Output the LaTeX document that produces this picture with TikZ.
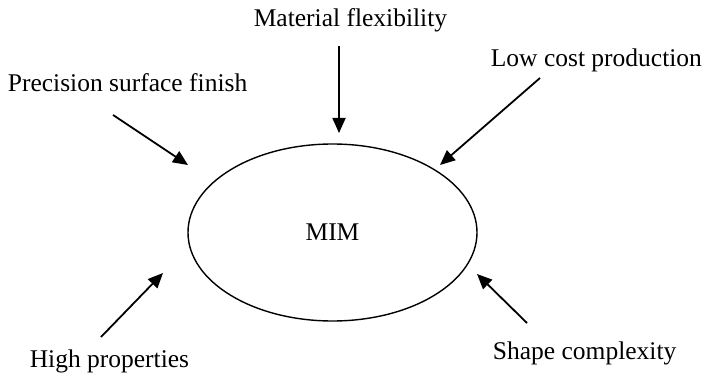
\documentclass[tikz,border=0pt]{standalone}
\usepackage{fontspec}
\setmainfont{Liberation Serif}
\usetikzlibrary{arrows.meta,shapes.geometric}

\begin{document}
\begin{tikzpicture}[->,>={Triangle[length=15pt,width=13pt]},line width=1.8pt,x=1pt,y=-1pt,
    every node/.style={font=\fontsize{25.5}{30}\selectfont,inner sep=0pt}]
    \useasboundingbox (0,0) rectangle (712,374);

    \node[draw,ellipse,line width=1.4pt,minimum width=289pt,minimum height=177pt] (M) at (332.5,232.5) {MIM};

    \node[anchor=base east] (mf) at (448,27)  {Material flexibility};
    \node[anchor=base west] (lc) at (490,67)  {Low cost production};
    \node[anchor=base west] (ps) at (7,92)    {Precision surface finish};
    \node[anchor=base east] (hp) at (190,367) {High properties};
    \node[anchor=base west] (sc) at (492,359) {Shape complexity};

    % arrow ends
    \coordinate (mf-s) at (339,46);  \coordinate (mf-e) at (339,133);
    \coordinate (lc-s) at (540,78);  \coordinate (lc-e) at (440,165);
    \coordinate (ps-s) at (113,115); \coordinate (ps-e) at (188,165);
    \coordinate (hp-s) at (101,337); \coordinate (hp-e) at (163,273);
    \coordinate (sc-s) at (527,323); \coordinate (sc-e) at (477,274);

    \draw (mf-s) -- (mf-e);
    \draw (lc-s) -- (lc-e);
    \draw (ps-s) -- (ps-e);
    \draw (hp-s) -- (hp-e);
    \draw (sc-s) -- (sc-e);
\end{tikzpicture}
\end{document}
